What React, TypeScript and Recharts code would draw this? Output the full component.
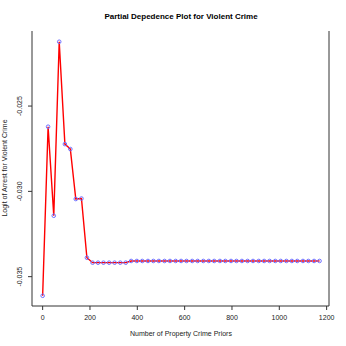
import { LineChart, Line, XAxis, YAxis } from 'recharts';

// grid of property-crime-prior counts used for the partial dependence
const priors = [
    0, 23, 47, 70, 94, 117, 140, 164, 187, 211, 234, 257, 281, 304, 328, 351, 374,
    398, 421, 445, 468, 491, 515, 538, 562, 585, 608, 632, 655, 679, 702, 725, 749,
    772, 796, 819, 842, 866, 889, 913, 936, 959, 983, 1006, 1030, 1053, 1076, 1100,
    1123, 1147, 1170,
];

// logit of arrest
const logit = [
    -0.03612, -0.02621, -0.03143, -0.02123, -0.02723, -0.02752, -0.03045, -0.03042,
    -0.03389, -0.03418, -0.03418, -0.03418, -0.03418, -0.03418, -0.03418, -0.03418,
    -0.03408, -0.03408, -0.03408, -0.03408, -0.03408, -0.03408, -0.03408, -0.03408,
    -0.03408, -0.03408, -0.03408, -0.03408, -0.03408, -0.03408, -0.03408, -0.03408,
    -0.03408, -0.03408, -0.03408, -0.03408, -0.03408, -0.03408, -0.03408, -0.03408,
    -0.03408, -0.03408, -0.03408, -0.03408, -0.03408, -0.03408, -0.03408, -0.03408,
    -0.03408, -0.03408, -0.03408,
];

const xTicks = [0, 200, 400, 600, 800, 1000, 1200];
const yTicks = [-0.035, -0.030, -0.025];

const FONT = '"Liberation Sans", Arial, sans-serif';

const YTick = (props: any) => {
    const { x, y, payload } = props;
    return (
        <g>
            <line x1={x - 4} y1={y} x2={x} y2={y} stroke="#333" />
            <text
                x={x - 10}
                y={y}
                transform={`rotate(-90, ${x - 10}, ${y})`}
                textAnchor="middle"
                fontSize={7}
                fill="#222"
                fontFamily={FONT}
            >
                {payload.value.toFixed(3)}
            </text>
        </g>
    );
};

export default function App() {
    const data = priors.map((p, i) => ({ priors: p, logit: logit[i] }));

    return (
        <div style={{ position: 'absolute', top: 0, left: 0, width: 346, height: 346, background: '#fff' }}>
            <LineChart
                width={346}
                height={346}
                data={data}
                margin={{ top: 31, right: 0, left: 0, bottom: 0 }}
            >
                <XAxis
                    dataKey="priors"
                    type="number"
                    domain={[-45, 1210]}
                    ticks={xTicks}
                    height={40}
                    tickSize={4}
                    tickMargin={5}
                    stroke="#333"
                    tick={{ fontSize: 7, fill: '#222', fontFamily: FONT }}
                    interval={0}
                    allowDataOverflow
                />
                <XAxis
                    xAxisId="top"
                    orientation="top"
                    dataKey="priors"
                    type="number"
                    domain={[-45, 1210]}
                    height={0}
                    tick={false}
                    tickLine={false}
                    stroke="#333"
                    allowDataOverflow
                />
                <YAxis
                    type="number"
                    domain={[-0.03672, -0.0206]}
                    ticks={yTicks}
                    width={32}
                    tickSize={0}
                    tickMargin={0}
                    tickLine={false}
                    tick={<YTick />}
                    stroke="#333"
                    interval={0}
                    allowDataOverflow
                />
                <YAxis
                    yAxisId="right"
                    orientation="right"
                    type="number"
                    domain={[-0.03672, -0.0206]}
                    width={17}
                    tick={false}
                    tickLine={false}
                    stroke="#333"
                    allowDataOverflow
                />
                <Line
                    dataKey="logit"
                    stroke="#ff0000"
                    strokeWidth={1.4}
                    dot={{ r: 1.8, stroke: '#7070ff', strokeWidth: 1, fill: 'none' }}
                    isAnimationActive={false}
                />
            </LineChart>
            <svg
                width={346}
                height={346}
                style={{ position: 'absolute', top: 0, left: 0, pointerEvents: 'none' }}
            >
                <text x={181} y={19} textAnchor="middle" fontSize={8} fontWeight="bold" fontFamily={FONT} fill="#000">
                    Partial Depedence Plot for Violent Crime
                </text>
                <text x={181} y={336} textAnchor="middle" fontSize={7} fontFamily={FONT} fill="#222">
                    Number of Property Crime Priors
                </text>
                <text
                    x={7}
                    y={168}
                    transform="rotate(-90, 7, 168)"
                    textAnchor="middle"
                    fontSize={7}
                    fontFamily={FONT}
                    fill="#222"
                >
                    Logit of Arrest for Violent Crime
                </text>
            </svg>
        </div>
    );
}
